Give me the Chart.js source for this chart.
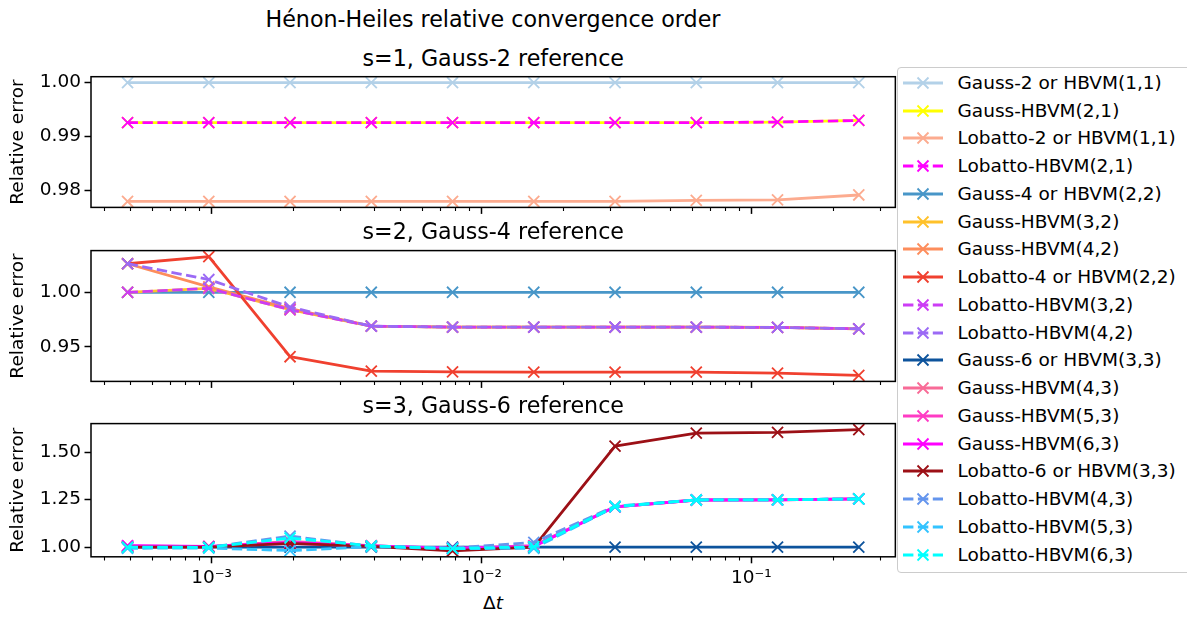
<!DOCTYPE html>
<html>
<head>
<meta charset="utf-8">
<script src="https://cdn.jsdelivr.net/npm/chart.js@4.4.1/dist/chart.umd.min.js"></script>
<style>
  html, body { margin: 0; padding: 0; background: #fff; width: 1187px; height: 619px; overflow: hidden;
    font-family: "DejaVu Sans", sans-serif; color: #000; }
  canvas { position: absolute; left: 0; }
  .ttl { position: absolute; white-space: nowrap; transform: translateX(-50%); font-size: 22.2px; line-height: 22px; }
  #xlabel { position: absolute; white-space: nowrap; transform: translateX(-50%); font-size: 18.5px; line-height: 18px; }
  #legend { position: absolute; left: 897px; top: 67.3px; width: 320px; height: 505.4px; box-sizing: border-box;
    border: 1.5px solid #cccccc; border-radius: 4px; background: rgba(255,255,255,0.8); }
  .row { position: absolute; left: 0; height: 22px; width: 300px; }
  .row svg { position: absolute; left: 4.5px; top: 0; }
  .row span { position: absolute; left: 59.5px; top: 0; font-size: 18.5px; line-height: 22px; white-space: nowrap; }
</style>
</head>
<body>
<div class="ttl" style="left:493px; top:7.5px;">Hénon-Heiles relative convergence order</div>
<div id="legend"></div>
<div id="xlabel" style="left:493px; top:593.6px;">Δ<i>t</i></div>
<script>
// Step sizes (Δt), halved at each refinement
const dtValues = [0.00048828125, 0.0009765625, 0.001953125, 0.00390625, 0.0078125,
                  0.015625, 0.03125, 0.0625, 0.125, 0.25];

// x axis ticks
const majorTicksX = [0.001, 0.01, 0.1];
const majorTickLabelsX = ['10⁻³', '10⁻²', '10⁻¹'];
const minorTicksX = [0.0004, 0.0005, 0.0006, 0.0007, 0.0008, 0.0009,
                     0.002, 0.003, 0.004, 0.005, 0.006, 0.007, 0.008, 0.009,
                     0.02, 0.03, 0.04, 0.05, 0.06, 0.07, 0.08, 0.09, 0.2, 0.3];

// s = 1, relative to Gauss-2
const gauss2        = [1.0000, 1.0000, 1.0000, 1.0000, 1.0000, 1.0000, 1.0000, 1.0000, 1.0000, 1.0000];
const gaussHBVM21   = [0.9926, 0.9926, 0.9926, 0.9926, 0.9926, 0.9926, 0.9926, 0.9926, 0.9927, 0.9930];
const lobatto2      = [0.9780, 0.9780, 0.9780, 0.9780, 0.9780, 0.9780, 0.9780, 0.9782, 0.9783, 0.9792];
const lobattoHBVM21 = [0.9926, 0.9926, 0.9926, 0.9926, 0.9926, 0.9926, 0.9926, 0.9926, 0.9927, 0.9930];
const yTicksS1 = [0.98, 0.99, 1.00];

// s = 2, relative to Gauss-4
const gauss4        = [1.0000, 1.0000, 1.0000, 1.0000, 1.0000, 1.0000, 1.0000, 1.0000, 1.0000, 1.0000];
const gaussHBVM32   = [1.0000, 1.0036, 0.9840, 0.9689, 0.9681, 0.9681, 0.9681, 0.9680, 0.9678, 0.9665];
const gaussHBVM42   = [1.0262, 1.0050, 0.9850, 0.9689, 0.9681, 0.9681, 0.9681, 0.9680, 0.9678, 0.9665];
const lobatto4      = [1.0262, 1.0328, 0.9409, 0.9277, 0.9270, 0.9268, 0.9268, 0.9268, 0.9259, 0.9237];
const lobattoHBVM32 = [1.0000, 1.0036, 0.9840, 0.9689, 0.9681, 0.9681, 0.9681, 0.9680, 0.9678, 0.9665];
const lobattoHBVM42 = [1.0262, 1.0117, 0.9864, 0.9689, 0.9681, 0.9681, 0.9681, 0.9680, 0.9678, 0.9665];
const yTicksS2 = [0.95, 1.00];

// s = 3, relative to Gauss-6
const gauss6        = [1.000, 1.000, 1.000, 1.000, 1.000, 1.000, 1.000, 1.000, 1.000, 1.000];
const gaussHBVM43   = [1.004, 1.002, 1.030, 1.008, 0.990, 1.005, 1.212, 1.248, 1.249, 1.2535];
const gaussHBVM53   = [1.006, 1.003, 1.020, 1.006, 0.993, 1.008, 1.212, 1.248, 1.249, 1.2535];
const gaussHBVM63   = [1.008, 1.004, 1.025, 1.007, 0.995, 1.003, 1.212, 1.248, 1.249, 1.2535];
const lobatto6      = [1.000, 1.000, 1.020, 1.004, 0.981, 1.000, 1.531, 1.600, 1.604, 1.618];
const lobattoHBVM43 = [0.998, 0.999, 1.058, 1.005, 0.995, 1.025, 1.215, 1.248, 1.249, 1.2535];
const lobattoHBVM53 = [0.994, 0.995, 0.982, 1.002, 0.992, 0.994, 1.212, 1.248, 1.249, 1.2535];
const lobattoHBVM63 = [1.000, 0.999, 1.048, 1.007, 0.992, 1.003, 1.214, 1.248, 1.249, 1.2535];
const yTicksS3 = [1.00, 1.25, 1.50];

const labelsS1 = ['Gauss-2 or HBVM(1,1)', 'Gauss-HBVM(2,1)', 'Lobatto-2 or HBVM(1,1)', 'Lobatto-HBVM(2,1)'];
const labelsS2 = ['Gauss-4 or HBVM(2,2)', 'Gauss-HBVM(3,2)', 'Gauss-HBVM(4,2)', 'Lobatto-4 or HBVM(2,2)',
                  'Lobatto-HBVM(3,2)', 'Lobatto-HBVM(4,2)'];
const labelsS3 = ['Gauss-6 or HBVM(3,3)', 'Gauss-HBVM(4,3)', 'Gauss-HBVM(5,3)', 'Gauss-HBVM(6,3)',
                  'Lobatto-6 or HBVM(3,3)', 'Lobatto-HBVM(4,3)', 'Lobatto-HBVM(5,3)', 'Lobatto-HBVM(6,3)'];

const colorsS1 = ['#b3d1e8', '#ffff00', '#fcab8f', '#ff00ff'];
const colorsS2 = ['#4896c8', '#ffc12a', '#fd8d5c', '#f0402f', '#cc3cf5', '#9b6af5'];
const colorsS3 = ['#0d539c', '#f86b97', '#ff3bc4', '#ff00ff', '#9c1016', '#6495ed', '#33c3ff', '#00ffff'];

const dashedS1 = [false, false, false, true];
const dashedS2 = [false, false, false, false, true, true];
const dashedS3 = [false, false, false, false, false, true, true, true];

// ---------- drawing ----------
Chart.defaults.font.family = '"DejaVu Sans", sans-serif';
Chart.defaults.font.size = 18.5;
Chart.defaults.color = '#000';

const LINE_W = 2.8, MARK_W = 1.85, MARK_R = 7.8, DASH = [10.4, 4.5];
const AX_LEFT = 91, AX_RIGHT = 895.5, AX_H = 133.5, CANVAS_W = 905;

// log-x limits with 5% margins in decades
const logLo = Math.log10(dtValues[0]), logHi = Math.log10(dtValues[dtValues.length - 1]);
const logPad = 0.05 * (logHi - logLo);
const X_MIN = Math.pow(10, logLo - logPad), X_MAX = Math.pow(10, logHi + logPad);

function yLimits(seriesList) {
  const all = seriesList.flat();
  const lo = Math.min(...all), hi = Math.max(...all), pad = 0.05 * (hi - lo);
  return [lo - pad, hi + pad];
}

const framePlugin = {
  id: 'frameAndMinor',
  afterDatasetsDraw(chart) {
    const { ctx, chartArea: a } = chart;
    const xs = chart.scales.x;
    ctx.save();
    ctx.strokeStyle = '#000';
    ctx.lineWidth = 1.1;
    ctx.beginPath();
    minorTicksX.forEach(v => {
      const px = Math.round(xs.getPixelForValue(v)) + 0.5;
      ctx.moveTo(px, a.bottom);
      ctx.lineTo(px, a.bottom + 3.7);
    });
    ctx.stroke();
    ctx.lineWidth = 1.5;
    ctx.strokeRect(a.left, a.top, a.right - a.left, a.bottom - a.top);
    ctx.restore();
  }
};

const panels = [
  { title: 's=1, Gauss-2 reference', series: [gauss2, gaussHBVM21, lobatto2, lobattoHBVM21],
    labels: labelsS1, colors: colorsS1, dashed: dashedS1, yTicks: yTicksS1, axTop: 76.7, canvasBottom: 222, showX: false },
  { title: 's=2, Gauss-4 reference', series: [gauss4, gaussHBVM32, gaussHBVM42, lobatto4, lobattoHBVM32, lobattoHBVM42],
    labels: labelsS2, colors: colorsS2, dashed: dashedS2, yTicks: yTicksS2, axTop: 250.0, canvasBottom: 396, showX: false },
  { title: 's=3, Gauss-6 reference', series: [gauss6, gaussHBVM43, gaussHBVM53, gaussHBVM63, lobatto6, lobattoHBVM43, lobattoHBVM53, lobattoHBVM63],
    labels: labelsS3, colors: colorsS3, dashed: dashedS3, yTicks: yTicksS3, axTop: 423.3, canvasBottom: 619, showX: true }
];

panels.forEach(p => {
  const canvasTop = Math.floor(p.axTop - 14);
  const padTop = p.axTop - canvasTop;
  const canvasH = p.canvasBottom - canvasTop;
  const xAxisH = p.canvasBottom - (p.axTop + AX_H);

  const t = document.createElement('div');
  t.className = 'ttl';
  t.style.left = ((AX_LEFT + AX_RIGHT) / 2) + 'px';
  t.style.top = (p.axTop - 11 - 18.7) + 'px';
  t.textContent = p.title;
  document.body.appendChild(t);

  const cv = document.createElement('canvas');
  cv.width = CANVAS_W; cv.height = canvasH;
  cv.style.top = canvasTop + 'px';
  cv.style.width = CANVAS_W + 'px'; cv.style.height = canvasH + 'px';
  document.body.appendChild(cv);

  const [yMin, yMax] = yLimits(p.series);

  new Chart(cv.getContext('2d'), {
    type: 'line',
    data: {
      datasets: p.series.map((vals, j) => ({
        label: p.labels[j],
        data: vals.map((y, i) => ({ x: dtValues[i], y })),
        borderColor: p.colors[j],
        backgroundColor: p.colors[j],
        borderWidth: LINE_W,
        borderDash: p.dashed[j] ? DASH : [],
        borderJoinStyle: 'round',
        pointStyle: 'crossRot',
        pointRadius: MARK_R,
        pointHoverRadius: MARK_R,
        pointBorderWidth: MARK_W,
        pointBorderColor: p.colors[j],
        tension: 0,
        fill: false,
        order: -j
      }))
    },
    options: {
      responsive: false,
      animation: false,
      events: [],
      layout: { padding: { left: 0, right: CANVAS_W - AX_RIGHT, top: padTop, bottom: 0 } },
      plugins: { legend: { display: false }, tooltip: { enabled: false }, title: { display: false } },
      scales: {
        x: {
          type: 'logarithmic',
          min: X_MIN, max: X_MAX,
          afterBuildTicks: s => { s.ticks = majorTicksX.map(v => ({ value: v, major: true })); },
          afterFit: s => { s.height = xAxisH; },
          border: { display: false },
          grid: { display: true, drawOnChartArea: false, drawTicks: true, tickLength: 6.5, tickWidth: 1.5, tickColor: '#000' },
          ticks: { autoSkip: false, maxRotation: 0, minRotation: 0, padding: 4,
                   callback: (v, i) => p.showX ? majorTickLabelsX[i] : '' }
        },
        y: {
          type: 'linear',
          position: 'left',
          min: yMin, max: yMax,
          afterBuildTicks: s => { s.ticks = p.yTicks.map(v => ({ value: v })); },
          afterFit: s => { s.width = AX_LEFT; },
          border: { display: false },
          grid: { display: true, drawOnChartArea: false, drawTicks: true, tickLength: 6.5, tickWidth: 1.5, tickColor: '#000' },
          ticks: { padding: 3.5, callback: v => Number(v).toFixed(2) },
          title: { display: true, text: 'Relative error', font: { size: 18.5, lineHeight: 1.2 }, padding: { top: 7.4, bottom: 0 } }
        }
      }
    },
    plugins: [framePlugin]
  });
});

// legend
const legend = document.getElementById('legend');
const legendLabels = [...labelsS1, ...labelsS2, ...labelsS3];
const legendColors = [...colorsS1, ...colorsS2, ...colorsS3];
const legendDashed = [...dashedS1, ...dashedS2, ...dashedS3];
legendLabels.forEach((lab, i) => {
  const row = document.createElement('div');
  row.className = 'row';
  row.style.top = (14.5 + 27.75 * i - 11) + 'px';
  const c = legendColors[i];
  const dash = legendDashed[i] ? ` stroke-dasharray="${DASH.join(' ')}"` : '';
  row.innerHTML =
    `<svg width="40" height="22" viewBox="0 0 40 22">` +
    `<line x1="0" y1="11" x2="40" y2="11" stroke="${c}" stroke-width="${LINE_W}"${dash}/>` +
    `<path d="M14.5 5.5 L25.5 16.5 M14.5 16.5 L25.5 5.5" stroke="${c}" stroke-width="${MARK_W}" fill="none"/>` +
    `</svg><span>${lab}</span>`;
  legend.appendChild(row);
});
</script>
</body>
</html>
